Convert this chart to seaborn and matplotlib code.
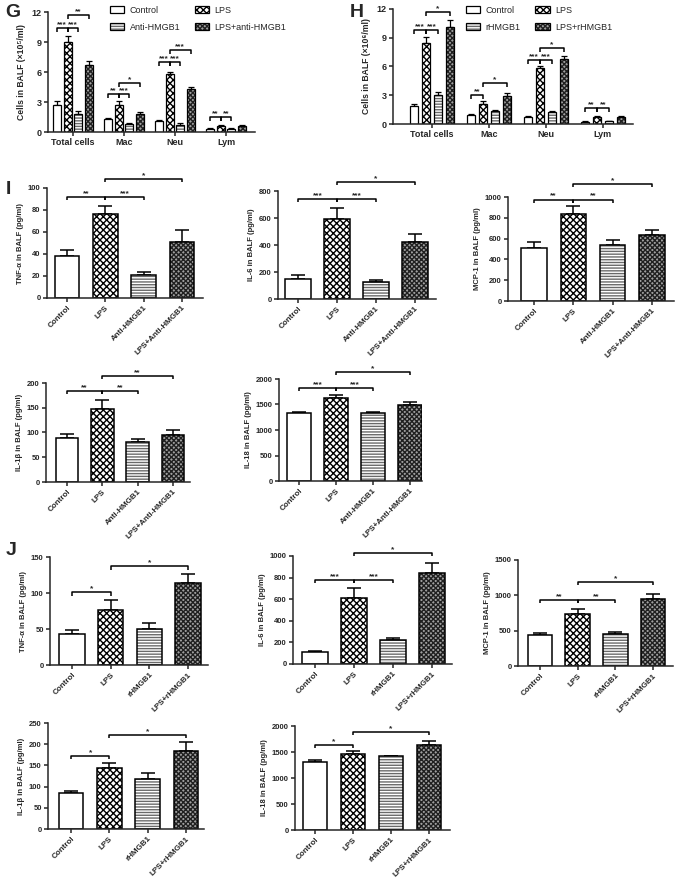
import numpy as np
import pandas as pd
import matplotlib
matplotlib.use("Agg")
import matplotlib.pyplot as plt
import seaborn as sns
from matplotlib.patches import Patch

# --- datos: recuento celular en BALF (G, H) ---
cell_types = ["Total cells", "Mac", "Neu", "Lym"]

g_groups = ["Control", "LPS", "Anti-HMGB1", "LPS+anti-HMGB1"]
g_control = [2.7, 1.3, 1.1, 0.3]
g_lps = [9.0, 2.7, 5.8, 0.6]
g_anti = [1.8, 0.8, 0.7, 0.3]
g_lps_anti = [6.7, 1.8, 4.3, 0.6]
g_control_err = [0.4, 0.1, 0.1, 0.05]
g_lps_err = [0.6, 0.4, 0.2, 0.1]
g_anti_err = [0.3, 0.1, 0.15, 0.05]
g_lps_anti_err = [0.4, 0.15, 0.2, 0.05]
# (tipo celular, grupo a, grupo b, altura, etiqueta)
g_sig = [(0, 0, 1, 10.4, "***"), (0, 1, 2, 10.4, "***"), (0, 1, 3, 11.7, "**"),
         (1, 0, 1, 3.8, "**"), (1, 1, 2, 3.8, "***"), (1, 1, 3, 4.9, "*"),
         (2, 0, 1, 7.0, "***"), (2, 1, 2, 7.0, "***"), (2, 1, 3, 8.2, "***"),
         (3, 0, 1, 1.5, "**"), (3, 1, 2, 1.5, "**")]

h_groups = ["Control", "LPS", "rHMGB1", "LPS+rHMGB1"]
h_control = [1.9, 0.95, 0.75, 0.25]
h_lps = [8.4, 2.1, 5.8, 0.75]
h_rhmgb1 = [3.0, 1.4, 1.3, 0.3]
h_lps_r = [10.1, 2.9, 6.8, 0.75]
h_control_err = [0.2, 0.1, 0.1, 0.05]
h_lps_err = [0.7, 0.25, 0.2, 0.1]
h_rhmgb1_err = [0.35, 0.1, 0.1, 0.05]
h_lps_r_err = [0.8, 0.35, 0.3, 0.05]
h_sig = [(0, 0, 1, 9.8, "***"), (0, 1, 2, 9.8, "***"), (0, 1, 3, 11.7, "*"),
         (1, 0, 1, 3.0, "**"), (1, 1, 3, 4.3, "*"),
         (2, 0, 1, 6.7, "***"), (2, 1, 2, 6.7, "***"), (2, 1, 3, 7.9, "*"),
         (3, 0, 1, 1.65, "**"), (3, 1, 2, 1.65, "**")]

# --- datos: citoquinas (I: anti-HMGB1, J: rHMGB1) ---
i_labels = ["Control", "LPS", "Anti-HMGB1", "LPS+Anti-HMGB1"]
j_labels = ["Control", "LPS", "rHMGB1", "LPS+rHMGB1"]

i_tnf = [38, 76, 21, 51]
i_tnf_err = [6, 8, 3, 11]
i_il6 = [145, 595, 125, 420]
i_il6_err = [30, 80, 15, 60]
i_mcp1 = [505, 840, 535, 635]
i_mcp1_err = [65, 75, 55, 50]
i_il1b = [88, 148, 80, 94]
i_il1b_err = [8, 18, 6, 12]
i_il18 = [1330, 1620, 1330, 1490]
i_il18_err = [25, 60, 20, 50]

j_tnf = [43, 77, 50, 114]
j_tnf_err = [6, 13, 8, 12]
j_il6 = [110, 615, 225, 845]
j_il6_err = [15, 85, 20, 90]
j_mcp1 = [440, 740, 450, 945]
j_mcp1_err = [20, 70, 30, 75]
j_il1b = [85, 145, 119, 185]
j_il1b_err = [4, 10, 13, 20]
j_il18 = [1300, 1470, 1415, 1640]
j_il18_err = [50, 40, 15, 80]

# (barra a, barra b, altura, etiqueta)
i_tnf_sig = [(0, 1, 92, "**"), (1, 2, 92, "***"), (1, 3, 108, "*")]
i_il6_sig = [(0, 1, 740, "***"), (1, 2, 740, "***"), (1, 3, 867, "*")]
i_mcp1_sig = [(0, 1, 975, "**"), (1, 2, 975, "**"), (1, 3, 1125, "*")]
i_il1b_sig = [(0, 1, 184, "**"), (1, 2, 184, "**"), (1, 3, 214, "**")]
i_il18_sig = [(0, 1, 1824, "***"), (1, 2, 1824, "***"), (1, 3, 2137, "*")]
j_tnf_sig = [(0, 1, 101, "*"), (1, 3, 137, "*")]
j_il6_sig = [(0, 1, 778, "***"), (1, 2, 778, "***"), (1, 3, 1028, "*")]
j_mcp1_sig = [(0, 1, 934, "**"), (1, 2, 934, "**"), (1, 3, 1189, "*")]
j_il1b_sig = [(0, 1, 172, "*"), (1, 3, 222, "*")]
j_il18_sig = [(0, 1, 1635, "*"), (1, 3, 1885, "*")]

# --- estilo ---
sns.set_theme(style="ticks")
plt.rcParams["font.family"] = ["Liberation Sans", "DejaVu Sans"]
plt.rcParams["font.weight"] = "bold"
plt.rcParams["axes.labelweight"] = "bold"
plt.rcParams["hatch.linewidth"] = 1.0

faces = ["white", "white", "white", "#a0a0a0"]
hatches = ["", "xxxxx", "------", "xxxxxxx"]
hatch_cols = ["black", "black", "#6a6a6a", "#202020"]
LW = 1.1

W, H = 677, 880
fig = plt.figure(figsize=(W / 100, H / 100), dpi=100)


def add_ax(l, r, t, b):
    return fig.add_axes([l / W, 1 - b / H, (r - l) / W, (b - t) / H])


def paint(p, k):
    p.set_hatch(hatches[k])
    p._hatch_color = matplotlib.colors.to_rgba(hatch_cols[k])


def style_ax(ax, ymax, step, fs):
    ax.set_ylim(0, ymax)
    ax.set_yticks(np.arange(0, ymax + step / 2, step))
    sns.despine(ax=ax)
    for s in ["left", "bottom"]:
        ax.spines[s].set_linewidth(LW)
    ax.tick_params(axis="both", length=3, width=LW, pad=1.5, labelsize=fs)
    for t in ax.get_yticklabels() + ax.get_xticklabels():
        t.set_fontweight("bold")


def bracket(ax, x1, x2, y, txt, drop, fs):
    ax.plot([x1, x1, x2, x2], [y - drop, y, y, y - drop], color="black",
            lw=LW, clip_on=False, solid_capstyle="butt")
    ax.text((x1 + x2) / 2, y, txt, ha="center", va="bottom", fontsize=fs,
            fontweight="bold", clip_on=False)


def cyto_panel(rect, bars, labels, means, errs, ymax, step, ylabel, sig):
    l, r, t, b = rect
    ax = add_ax(l, r, t, b)
    df = pd.DataFrame({"grp": labels, "val": means})
    sns.barplot(data=df, x="grp", y="val", hue="grp", palette=faces,
                width=0.65, edgecolor="black", linewidth=LW, legend=False,
                errorbar=None, ax=ax)
    for k, p in enumerate(ax.patches):
        paint(p, k)
        p.set_zorder(2)
    xs = [p.get_x() + p.get_width() / 2 for p in ax.patches]
    ax.errorbar(xs, means, yerr=[np.zeros(len(means)), errs], fmt="none",
                ecolor="black", elinewidth=LW, capsize=5, capthick=LW, zorder=1)
    unit = (bars[1] - bars[0]) / 3
    ax.set_xlim(-(bars[0] - l) / unit, 3 + (r - bars[1]) / unit)
    style_ax(ax, ymax, step, 5.5)
    ax.set_xlabel("")
    ax.set_ylabel(ylabel, fontsize=5.5, labelpad=3)
    plt.setp(ax.get_xticklabels(), rotation=45, ha="right",
             rotation_mode="anchor", fontsize=5.8)
    for a, c, y, txt in sig:
        bracket(ax, xs[a], xs[c], y, txt, ymax * 0.03, 6)
    return ax


def cell_panel(rect, groups, series, errs, sig, ylabel, gap, xlim, bbox):
    l, r, t, b = rect
    ax = add_ax(l, r, t, b)
    rows = []
    for g, vals in zip(groups, series):
        for c, v in zip(cell_types, vals):
            rows.append({"cell": c, "group": g, "val": v})
    df = pd.DataFrame(rows)
    sns.barplot(data=df, x="cell", y="val", hue="group", palette=faces,
                width=0.84, gap=gap, edgecolor="black", linewidth=0.9,
                legend=False, errorbar=None, ax=ax)
    pos = {}
    for i, p in enumerate(ax.patches[:16]):
        gi, ci = i // 4, i % 4
        paint(p, gi)
        p.set_zorder(2)
        pos[(ci, gi)] = p.get_x() + p.get_width() / 2
    for gi in range(4):
        xs = [pos[(ci, gi)] for ci in range(4)]
        ax.errorbar(xs, series[gi], yerr=[np.zeros(4), errs[gi]], fmt="none",
                    ecolor="black", elinewidth=0.9, capsize=2.5, capthick=0.9,
                    zorder=1)
    ax.set_xlim(*xlim)
    style_ax(ax, 12, 3, 6.5)
    ax.set_xlabel("")
    ax.set_ylabel(ylabel, fontsize=6.2, labelpad=4)
    for ci, a, c, y, txt in sig:
        bracket(ax, pos[(ci, a)], pos[(ci, c)], y, txt, 0.4, 6)
    handles = [Patch(facecolor=faces[k], edgecolor="black", hatch=hatches[k],
                     linewidth=0.9, label=groups[k]) for k in [0, 2, 1, 3]]
    leg = ax.legend(handles=handles, ncol=2, loc="upper left", bbox_to_anchor=bbox,
                    frameon=False, prop={"size": 6.5, "weight": "normal"},
                    handlelength=1.6, handleheight=0.8, columnspacing=1.6,
                    labelspacing=0.9, handletextpad=0.6)
    for hp, k in zip(leg.legend_handles, [0, 2, 1, 3]):
        paint(hp, k)
    return ax


# --- G y H ---
cell_panel((48, 255, 12, 132), g_groups,
           [g_control, g_lps, g_anti, g_lps_anti],
           [g_control_err, g_lps_err, g_anti_err, g_lps_anti_err],
           g_sig, "Cells in BALF (×10⁵/ml)", 0.25, (-0.49, 3.57), (0.26, 1.12))
cell_panel((393, 633, 9, 124), h_groups,
           [h_control, h_lps, h_rhmgb1, h_lps_r],
           [h_control_err, h_lps_err, h_rhmgb1_err, h_lps_r_err],
           h_sig, "Cells in BALF (×10⁶/ml)", 0.3, (-0.68, 3.53), (0.27, 1.1))

# --- I ---
cyto_panel((47, 203, 188, 298), (67, 182), i_labels, i_tnf, i_tnf_err,
           100, 20, "TNF-α in BALF (pg/ml)", i_tnf_sig)
cyto_panel((278, 436, 191, 299), (298, 415), i_labels, i_il6, i_il6_err,
           800, 200, "IL-6 in BALF (pg/ml)", i_il6_sig)
cyto_panel((508, 674, 197, 301), (534, 652), i_labels, i_mcp1, i_mcp1_err,
           1000, 200, "MCP-1 in BALF (pg/ml)", i_mcp1_sig)
cyto_panel((46, 190, 383, 482), (67, 173), i_labels, i_il1b, i_il1b_err,
           200, 50, "IL-1β in BALF (pg/ml)", i_il1b_sig)
cyto_panel((279, 422, 379, 481), (299, 410), i_labels, i_il18, i_il18_err,
           2000, 500, "IL-18 in BALF (pg/ml)", i_il18_sig)

# --- J ---
cyto_panel((50, 208, 557, 665), (72, 188), j_labels, j_tnf, j_tnf_err,
           150, 50, "TNF-α in BALF (pg/ml)", j_tnf_sig)
cyto_panel((293, 452, 556, 664), (315, 432), j_labels, j_il6, j_il6_err,
           1000, 200, "IL-6 in BALF (pg/ml)", j_il6_sig)
cyto_panel((518, 673, 560, 666), (540, 653), j_labels, j_mcp1, j_mcp1_err,
           1500, 500, "MCP-1 in BALF (pg/ml)", j_mcp1_sig)
cyto_panel((48, 204, 723, 829), (71, 186), j_labels, j_il1b, j_il1b_err,
           250, 50, "IL-1β in BALF (pg/ml)", j_il1b_sig)
cyto_panel((295, 450, 726, 830), (315, 429), j_labels, j_il18, j_il18_err,
           2000, 500, "IL-18 in BALF (pg/ml)", j_il18_sig)

# letras de panel
for x, y, s in [(5, 4, "G"), (350, 4, "H"), (6, 181, "I"), (6, 542, "J")]:
    fig.text(x / W, 1 - y / H, s, fontsize=14, fontweight="bold", va="top")

fig.savefig("out.png", dpi=100)
